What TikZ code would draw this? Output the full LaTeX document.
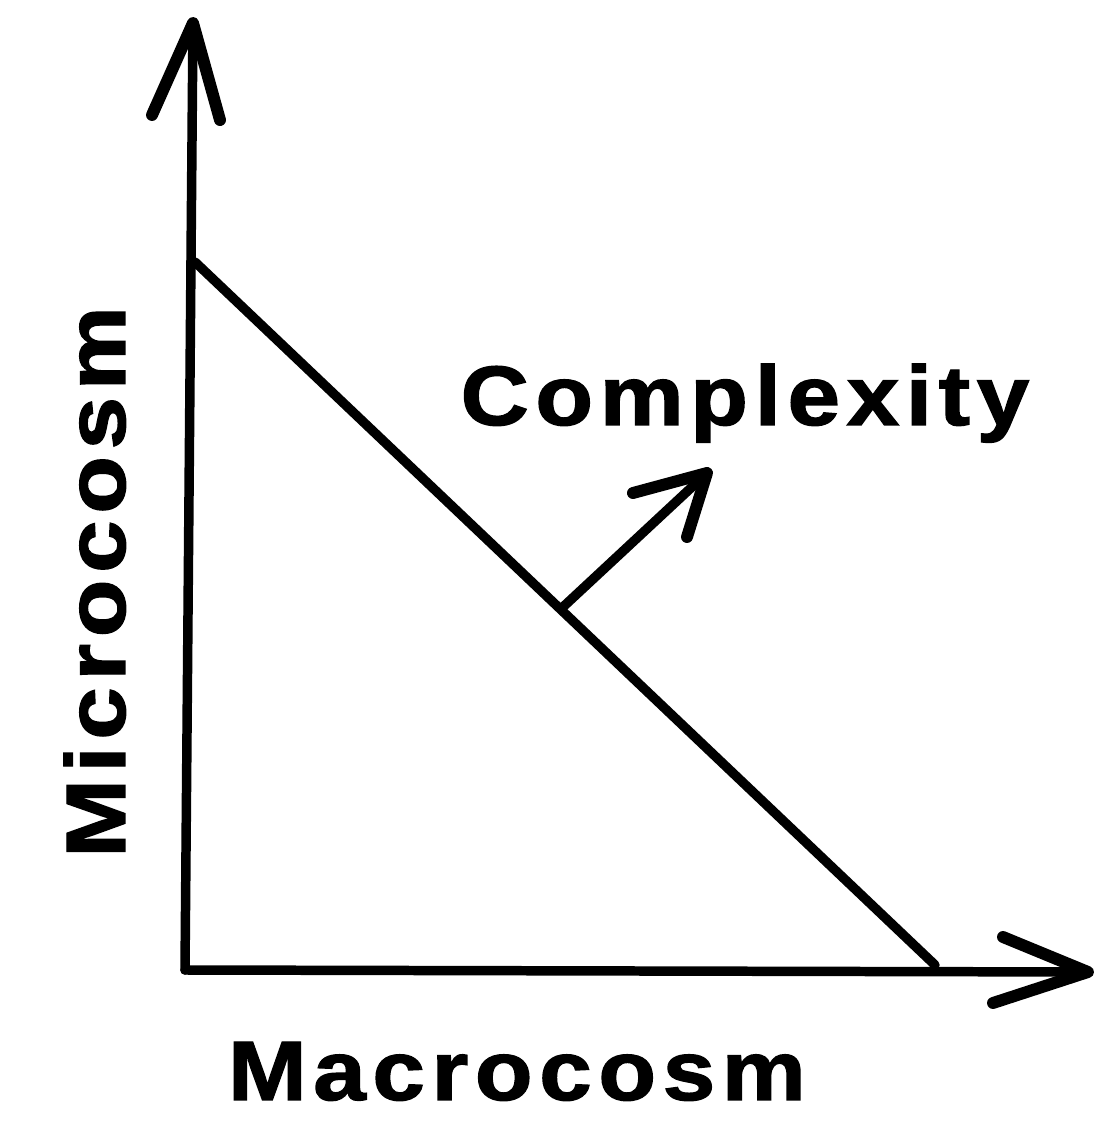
\documentclass[tikz,border=0pt]{standalone}
\usepackage{fontspec}
\setmainfont{Liberation Sans}
\newfontfamily\lblfont[LetterSpace=7,FakeBold=1.5]{Liberation Sans}
\begin{document}
\begin{tikzpicture}[
  ln/.style={line width=2.7pt, line cap=round, line join=round},
  barb/.style={line width=3.4pt, line cap=round, line join=round},
  lbl/.style={font=\lblfont\bfseries\fontsize{24pt}{28pt}\selectfont, inner sep=0pt}
]
\useasboundingbox (0,0) rectangle (10.93,11.25);
% key points
\coordinate (O) at (1.85,1.55);
\coordinate (Ytip) at (1.93,11.02);
\coordinate (Yl) at (1.52,10.10);
\coordinate (Yr) at (2.20,10.05);
\coordinate (Xtip) at (10.88,1.53);
\coordinate (Xu) at (10.03,1.88);
\coordinate (Xd) at (9.93,1.22);
\coordinate (D1) at (1.95,8.63);
\coordinate (D2) at (9.35,1.60);
\coordinate (A0) at (5.63,5.18);
\coordinate (Atip) at (7.07,6.52);
\coordinate (Ab1) at (6.33,6.32);
\coordinate (Ab2) at (6.87,5.88);
% axes
\draw[ln] (O) -- (Ytip);
\draw[barb] (Yl) -- (Ytip) -- (Yr);
\draw[ln] (O) -- (Xtip);
\draw[barb] (Xu) -- (Xtip) -- (Xd);
% diagonal
\draw[ln] (D1) -- (D2);
% complexity arrow
\draw[ln] (A0) -- (Atip);
\draw[barb] (Ab1) -- (Atip) -- (Ab2);
% labels
\node[lbl, anchor=base, xscale=1.12] (cx) at (7.45,7.0) {Complexity};
\node[lbl, anchor=base, xscale=1.12] (mac) at (5.17,0.25) {Macrocosm};
\node[lbl, anchor=base, rotate=90, xscale=1.12] (mic) at (1.25,5.43) {Microcosm};
\end{tikzpicture}
\end{document}
